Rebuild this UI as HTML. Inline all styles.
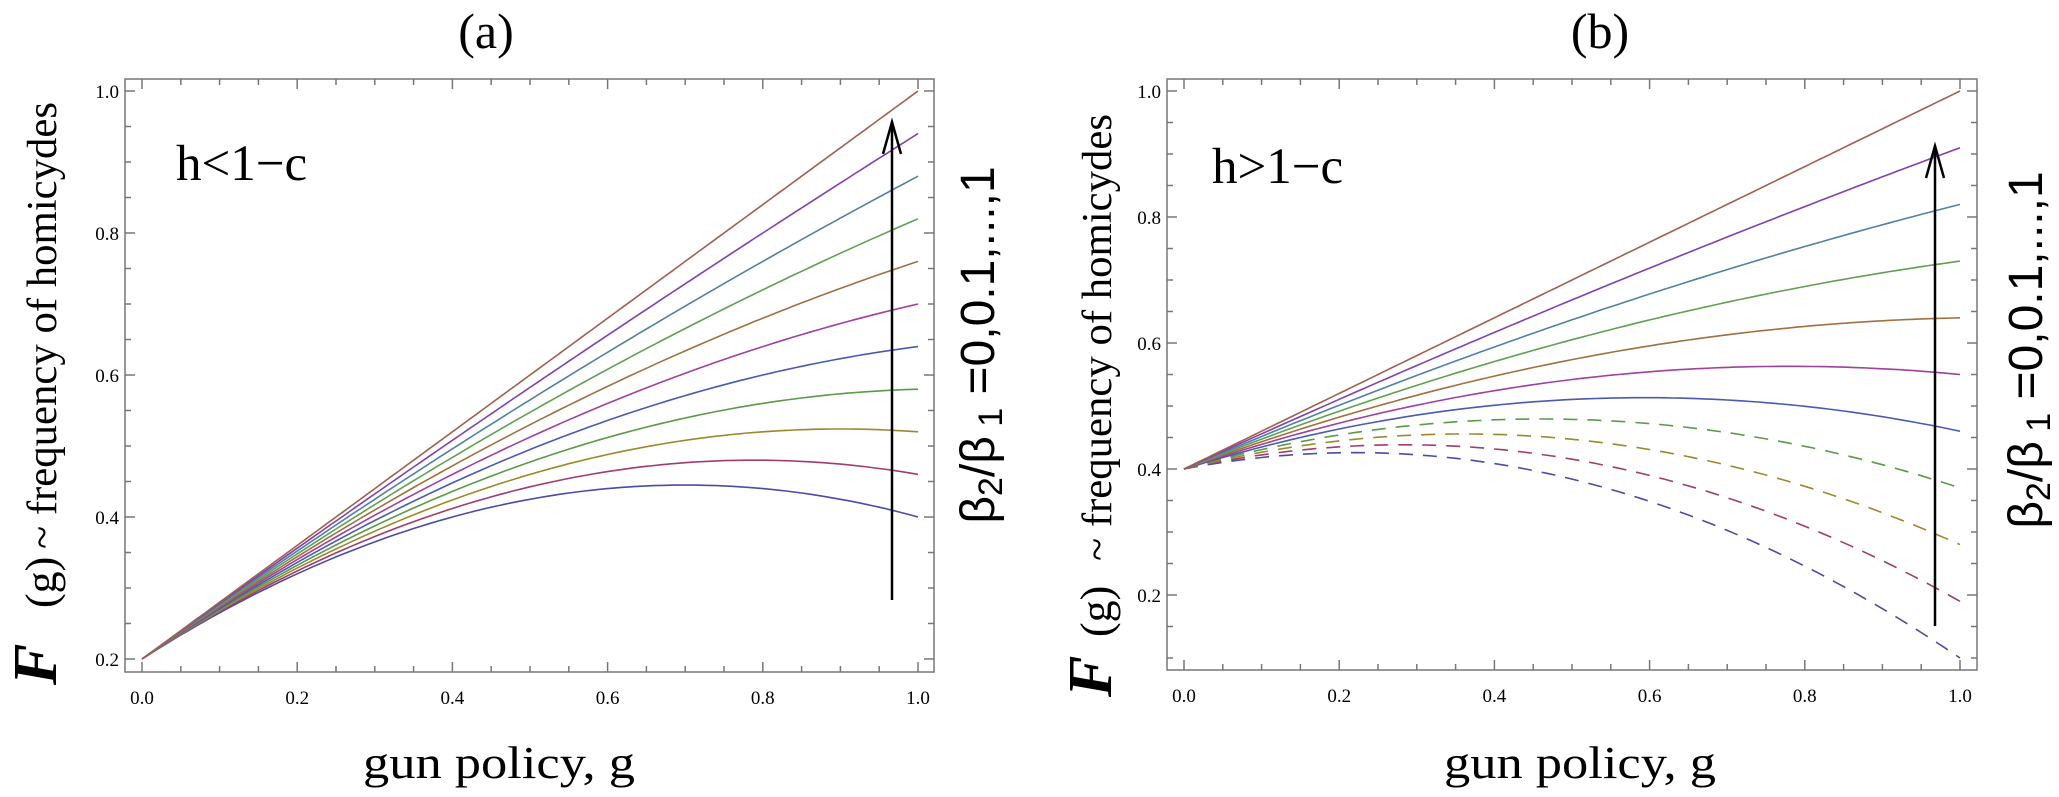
<!DOCTYPE html>
<html><head><meta charset="utf-8"><style>
html,body{margin:0;padding:0;background:#fff;}
svg{display:block;font-family:"Liberation Serif",serif;}
</style></head><body>
<svg id="s" width="2059" height="797" viewBox="0 0 2059 797" xmlns="http://www.w3.org/2000/svg">
<text x="486" y="48" font-size="50" text-anchor="middle">(a)</text>
<text x="1600" y="48" font-size="50" text-anchor="middle">(b)</text>
<text x="176" y="180" font-size="51">h&lt;1−c</text>
<text x="1212" y="183" font-size="51">h&gt;1−c</text>
<text x="499" y="778" font-size="46" text-anchor="middle" textLength="272" lengthAdjust="spacingAndGlyphs">gun policy, g</text>
<text x="1580" y="778" font-size="46" text-anchor="middle" textLength="272" lengthAdjust="spacingAndGlyphs">gun policy, g</text>
<g transform="translate(56,0)">
<text transform="translate(0,685) rotate(-90)" font-size="62" font-weight="bold" font-style="italic">F</text>
<text transform="translate(0,608) rotate(-90)" font-size="44">(g)</text>
<text transform="translate(0,549) rotate(-90)" font-size="42" textLength="447" lengthAdjust="spacingAndGlyphs">~ frequency of homicydes</text>
</g>
<g transform="translate(1111,0)">
<text transform="translate(0,697) rotate(-90)" font-size="62" font-weight="bold" font-style="italic">F</text>
<text transform="translate(0,637) rotate(-90)" font-size="44">(g)</text>
<text transform="translate(0,561) rotate(-90)" font-size="42" textLength="447" lengthAdjust="spacingAndGlyphs">~ frequency of homicydes</text>
</g>
<text transform="translate(994,345) rotate(-90)" text-anchor="middle" font-size="48" font-family="Liberation Sans, sans-serif">β<tspan font-size="34" dy="8">2</tspan><tspan dy="-8">/β</tspan><tspan font-size="34" dy="8"> 1</tspan><tspan dy="-8"> =0,0.1,...,1</tspan></text>
<text transform="translate(2042,350) rotate(-90)" text-anchor="middle" font-size="48" font-family="Liberation Sans, sans-serif">β<tspan font-size="34" dy="8">2</tspan><tspan dy="-8">/β</tspan><tspan font-size="34" dy="8"> 1</tspan><tspan dy="-8"> =0,0.1,...,1</tspan></text>
<g id="g"></g>
</svg>
<script>
var G=document.getElementById('g'),h='';
var cols=['#4b4ba8','#a03c70','#9a8a2c','#5a9a48','#4a5ab0','#a040a0','#a07040','#60a050','#5080a8','#8040b0','#a06050'];
function panel(x0,x1,fl,fr,ft,fb,Y,ymin,curves){
 h+='<rect x="'+fl+'" y="'+ft+'" width="'+(fr-fl)+'" height="'+(fb-ft)+'" fill="none" stroke="#777" stroke-width="1.5"/>';
 function X(g){return x0+(x1-x0)*g;}
 for(var i=0;i<=20;i++){var g=i/20,px=X(g),L=(i%4==0)?10:6;
  h+='<line x1="'+px+'" y1="'+fb+'" x2="'+px+'" y2="'+(fb-L)+'" stroke="#777" stroke-width="1.5"/>';
  h+='<line x1="'+px+'" y1="'+ft+'" x2="'+px+'" y2="'+(ft+L)+'" stroke="#777" stroke-width="1.5"/>';
  if(i%4==0)h+='<text x="'+px+'" y="'+(fb+32)+'" font-size="19" text-anchor="middle">'+g.toFixed(1)+'</text>';}
 for(var k=Math.round(ymin*20);k<=20;k++){var v=k/20,py=Y(v),L=(k%4==0)?10:6;
  h+='<line x1="'+fl+'" y1="'+py+'" x2="'+(fl+L)+'" y2="'+py+'" stroke="#777" stroke-width="1.5"/>';
  h+='<line x1="'+fr+'" y1="'+py+'" x2="'+(fr-L)+'" y2="'+py+'" stroke="#777" stroke-width="1.5"/>';
  if(k%4==0)h+='<text x="'+(fl-6)+'" y="'+(py+7)+'" font-size="19" text-anchor="end">'+v.toFixed(1)+'</text>';}
 curves.forEach(function(c,i){var d='';for(var j=0;j<=100;j++){var g=j/100;d+=(j?'L':'M')+X(g).toFixed(1)+' '+Y(c.f(g)).toFixed(1);}
  h+='<path d="'+d+'" fill="none" stroke="'+cols[i]+'" stroke-width="1.6"'+(c.dash?' stroke-dasharray="14 10"':'')+'/>';});
}
var ca=[],cb=[];
for(var k=0;k<=10;k++){(function(k){
 var a=0.7+0.01*k,b=-0.5+0.05*k;ca.push({f:function(g){return 0.2+a*g+b*g*g;}});
 var a2=0.236+0.0364*k,b2=-0.536+0.0536*k;cb.push({f:function(g){return 0.4+a2*g+b2*g*g;},dash:k<4});})(k);}
panel(142,918,125,934,79,672,function(v){return 659-710*(v-0.2);},0.2,ca);
panel(1184,1960,1167,1977,79,670,function(v){return 91+630*(1-v);},0.1,cb);
function arrow(x,y1,y2){h+='<line x1="'+x+'" y1="'+y1+'" x2="'+x+'" y2="'+y2+'" stroke="#000" stroke-width="2.5"/><path d="M'+(x-9)+' '+(y2+32)+'L'+x+' '+y2+'L'+(x+9)+' '+(y2+32)+'" fill="none" stroke="#000" stroke-width="2.5"/>';}
arrow(892,600,122);arrow(1935,626,146);
G.innerHTML=h;
</script>
</body></html>
